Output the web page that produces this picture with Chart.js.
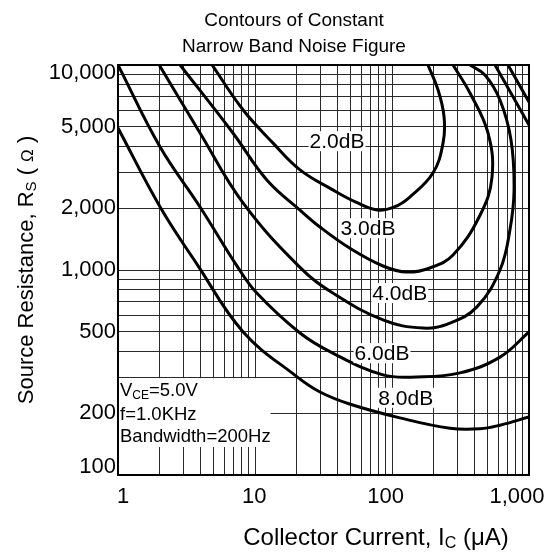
<!DOCTYPE html>
<html>
<head>
<meta charset="utf-8">
<script src="https://cdn.jsdelivr.net/npm/chart.js@4.4.1/dist/chart.umd.min.js"></script>
<style>
html, body { margin: 0; padding: 0; background: #fff; }
</style>
</head>
<body>
<canvas id="myChart" width="547" height="554"></canvas>
<script>
// collector current (uA) and source resistance (ohm) along each contour
var current2dB = [4.86, 8.2, 13.5, 21.3, 37, 54, 78, 104, 135, 199, 236, 240, 217, 183];
var res2dB = [10000, 6030, 4170, 3080, 2460, 2150, 1960, 2030, 2270, 2970, 4170, 5570, 7550, 10000];

var current3dB = [2.84, 6.9, 12.2, 21.3, 29.8, 49, 86, 129, 189, 279, 439, 537, 502, 371, 279];
var res3dB = [10000, 4660, 2750, 1960, 1620, 1280, 1046, 977, 1023, 1183, 1850, 2840, 4660, 7300, 10000];

var current4dB = [2, 3.97, 8.2, 21.3, 37, 86, 168, 265, 417, 614, 726, 778, 739, 614, 477, 371];
var res4dB = [10000, 4660, 2120, 1030, 772, 571, 521, 551, 661, 1000, 1570, 2460, 4310, 6750, 8940, 10000];

var current6dB = [1, 2.03, 3.97, 7.5, 10.3, 21.3, 37, 86, 152, 314, 614, 1000];
var res6dB = [10000, 3980, 2030, 1030, 772, 493, 393, 308, 301, 315, 376, 499];
var current6dBTop = [565, 1000];
var res6dBTop = [10000, 5100];

var current8dB = [1, 2.03, 3.8, 8.2, 20.3, 29.8, 49, 114, 265, 439, 614, 1000];
var res8dB = [4930, 2030, 1060, 499, 301, 254, 222, 190, 169, 168, 175, 192];
var current8dBTop = [703, 1000];
var res8dBTop = [10000, 6600];

var contourNames = ['2.0dB', '3.0dB', '4.0dB', '6.0dB', '8.0dB'];
var xTickLabels = [1, 10, 100, 1000];
var yTickLabels = [100, 200, 500, 1000, 2000, 5000, 10000];

var textFont = '"Liberation Sans", Arial, sans-serif';

// grid at 1..9 of every decade
function decadeGrid(lo, hi) {
    var out = [];
    for (var d = lo; d < hi; d *= 10) {
        for (var m = 1; m < 10; m++) out.push(m * d);
    }
    out.push(hi);
    return out;
}
var gridCurrent = decadeGrid(1, 1000);
var gridRes = decadeGrid(100, 10000);

function toPoints(xs, ys) {
    return xs.map(function (x, i) { return { x: x, y: ys[i] }; });
}

function curve(xs, ys) {
    return {
        data: toPoints(xs, ys),
        showLine: true,
        borderColor: '#000',
        borderWidth: 3,
        pointRadius: 0,
        tension: 0.4,
        fill: false
    };
}

// label anchors for each contour, in data units
var labelSpots = [
    { x: 39.7, y: 4250 },
    { x: 66.8, y: 1600 },
    { x: 114, y: 772 },
    { x: 84.5, y: 393 },
    { x: 126, y: 238 }
];

function drawParts(ctx, parts, x, y, centred) {
    var total = 0;
    parts.forEach(function (p) {
        ctx.font = p.size + 'px ' + textFont;
        p.w = ctx.measureText(p.text).width;
        total += p.w;
    });
    var cx = centred ? x - total / 2 : x;
    parts.forEach(function (p) {
        ctx.font = p.size + 'px ' + textFont;
        ctx.fillText(p.text, cx, y + (p.dy || 0));
        cx += p.w;
    });
}

var decorations = {
    id: 'decorations',
    beforeDatasetsDraw: function (chart) {
        var ctx = chart.ctx;
        var xs = chart.scales.x, ys = chart.scales.y;
        // white box behind the test conditions
        var l = xs.getPixelForValue(1), r = xs.getPixelForValue(13);
        var t = ys.getPixelForValue(300), b = ys.getPixelForValue(137);
        ctx.save();
        ctx.fillStyle = '#fff';
        ctx.fillRect(l, t + 1, r - l, b - t - 1);
        ctx.restore();
    },
    afterDatasetsDraw: function (chart) {
        var ctx = chart.ctx;
        var xs = chart.scales.x, ys = chart.scales.y;
        var area = chart.chartArea;
        ctx.save();
        ctx.textBaseline = 'middle';
        ctx.textAlign = 'center';
        ctx.font = '21px ' + textFont;
        contourNames.forEach(function (name, i) {
            var px = xs.getPixelForValue(labelSpots[i].x);
            var py = ys.getPixelForValue(labelSpots[i].y);
            var w = ctx.measureText(name).width;
            ctx.fillStyle = '#fff';
            ctx.fillRect(px - w / 2 - 1, py - 10, w + 2, 20);
            ctx.fillStyle = '#000';
            ctx.fillText(name, px, py + 1);
        });

        // test conditions
        ctx.textAlign = 'left';
        ctx.textBaseline = 'alphabetic';
        ctx.fillStyle = '#000';
        var left = area.left + 2;
        drawParts(ctx, [
            { text: 'V', size: 18.5 },
            { text: 'CE', size: 12, dy: 3 },
            { text: '=5.0V', size: 18.5 }
        ], left, 396, false);
        drawParts(ctx, [{ text: 'f=1.0KHz', size: 18.5 }], left, 420, false);
        drawParts(ctx, [{ text: 'Bandwidth=200Hz', size: 18.5 }], left, 442, false);

        // frame
        ctx.strokeStyle = '#000';
        ctx.lineWidth = 2;
        ctx.strokeRect(area.left, area.top, area.right - area.left, area.bottom - area.top);
        ctx.restore();
    },
    afterDraw: function (chart) {
        var ctx = chart.ctx;
        ctx.save();
        ctx.fillStyle = '#000';
        ctx.textBaseline = 'alphabetic';
        ctx.textAlign = 'left';
        drawParts(ctx, [{ text: 'Contours of Constant', size: 19 }], 294, 26, true);
        drawParts(ctx, [{ text: 'Narrow Band Noise Figure', size: 19 }], 294, 52, true);

        drawParts(ctx, [
            { text: 'Collector Current, I', size: 24 },
            { text: 'C', size: 16, dy: 3 },
            { text: ' (\u03bcA)', size: 24 }
        ], 376, 545, true);

        ctx.translate(33, 270);
        ctx.rotate(-Math.PI / 2);
        drawParts(ctx, [
            { text: 'Source Resistance, R', size: 22 },
            { text: 'S', size: 15, dy: 3 },
            { text: ' ( ', size: 22 },
            { text: '\u03a9', size: 17 },
            { text: ' )', size: 22 }
        ], 0, 0, true);
        ctx.restore();
    }
};

var gridStyle = { color: '#2a2a2a', lineWidth: 1, drawTicks: false };

new Chart(document.getElementById('myChart'), {
    type: 'scatter',
    data: {
        datasets: [
            curve(current2dB, res2dB),
            curve(current3dB, res3dB),
            curve(current4dB, res4dB),
            curve(current6dB, res6dB),
            curve(current6dBTop, res6dBTop),
            curve(current8dB, res8dB),
            curve(current8dBTop, res8dBTop)
        ]
    },
    options: {
        responsive: false,
        animation: false,
        layout: { padding: { left: 0, right: 18, top: 65, bottom: 39 } },
        plugins: { legend: { display: false }, tooltip: { enabled: false }, title: { display: false } },
        scales: {
            x: {
                type: 'logarithmic',
                min: 1,
                max: 1000,
                afterBuildTicks: function (scale) {
                    scale.ticks = gridCurrent.map(function (v) { return { value: v }; });
                },
                ticks: { display: false },
                grid: gridStyle,
                border: { display: false },
                afterFit: function (scale) { scale.height = 0; scale.paddingLeft = 0; scale.paddingRight = 0; }
            },
            xl: {
                type: 'logarithmic',
                position: 'bottom',
                min: 0.916,
                max: 1234,
                afterBuildTicks: function (scale) {
                    scale.ticks = xTickLabels.map(function (v) { return { value: v }; });
                },
                ticks: {
                    color: '#000',
                    padding: 9,
                    autoSkip: false,
                    maxRotation: 0,
                    font: { family: textFont, size: 22 },
                    callback: function (v) { return Number(v).toLocaleString('en-US'); }
                },
                grid: { display: false, drawTicks: false },
                border: { display: false },
                afterFit: function (scale) { scale.height = 40; scale.paddingLeft = 0; scale.paddingRight = 0; }
            },
            y: {
                type: 'logarithmic',
                min: 100,
                max: 10000,
                afterBuildTicks: function (scale) {
                    scale.ticks = gridRes.map(function (v) { return { value: v }; });
                },
                ticks: {
                    color: '#000',
                    padding: 2,
                    autoSkip: false,
                    font: { family: textFont, size: 22, lineHeight: 0.7 },
                    callback: function (v) {
                        if (yTickLabels.indexOf(v) < 0) return '';
                        var s = Number(v).toLocaleString('en-US');
                        if (v === 10000) return ['', s];
                        if (v === 100) return [s, ''];
                        return s;
                    }
                },
                grid: gridStyle,
                border: { display: false },
                afterFit: function (scale) { scale.width = 118; }
            }
        }
    },
    plugins: [decorations]
});
</script>
</body>
</html>
